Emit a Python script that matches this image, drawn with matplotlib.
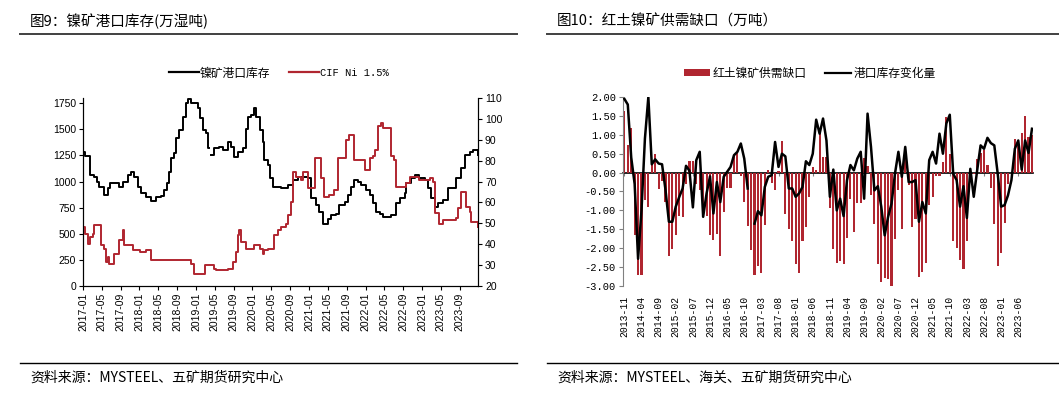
import numpy as np
import pandas as pd
import matplotlib
matplotlib.use('Agg')
import matplotlib.pyplot as plt
from matplotlib.lines import Line2D
from matplotlib.patches import Patch
from matplotlib.ticker import FormatStrFormatter

plt.rcParams['font.family'] = ['Liberation Sans', 'Noto Sans CJK SC']

CJK = ['Noto Sans CJK SC', 'DejaVu Sans']
MONO = ['Liberation Mono', 'Noto Sans CJK SC']
RED = '#B02630'

# ---- 图9: nickel ore port inventory (万湿吨) and CIF Ni 1.5% ----
inv_dates = ['2017-01-01', '2017-01-11', '2017-02-09', '2017-02-17', '2017-03-15', '2017-03-30',
             '2017-04-16', '2017-05-18', '2017-06-09', '2017-06-24', '2017-07-21', '2017-08-24',
             '2017-09-15', '2017-10-17', '2017-11-08', '2017-11-29', '2017-12-20', '2018-01-12',
             '2018-02-13', '2018-03-15', '2018-04-17', '2018-05-19', '2018-06-10', '2018-06-25',
             '2018-07-12', '2018-07-25', '2018-08-14', '2018-08-25', '2018-09-16', '2018-10-07',
             '2018-10-29', '2018-11-13', '2018-12-01', '2019-01-02', '2019-01-13', '2019-01-24',
             '2019-02-15', '2019-03-06', '2019-03-17', '2019-03-24', '2019-04-08', '2019-04-29',
             '2019-06-01', '2019-06-22', '2019-07-24', '2019-08-15', '2019-09-06', '2019-09-28',
             '2019-11-01', '2019-11-21', '2019-12-01', '2019-12-23', '2020-01-14', '2020-01-25',
             '2020-02-16', '2020-03-07', '2020-03-18', '2020-04-09', '2020-04-20', '2020-05-11',
             '2020-07-04', '2020-08-16', '2020-09-18', '2020-10-20', '2020-11-22', '2020-12-24',
             '2021-01-15', '2021-02-17', '2021-03-08', '2021-03-29', '2021-05-01', '2021-05-22',
             '2021-06-24', '2021-07-15', '2021-08-18', '2021-09-09', '2021-10-01', '2021-10-21',
             '2021-11-12', '2021-12-04', '2022-01-06', '2022-01-27', '2022-02-18', '2022-03-09',
             '2022-04-01', '2022-04-21', '2022-05-24', '2022-06-15', '2022-07-17', '2022-08-08',
             '2022-09-10', '2022-09-21', '2022-10-22', '2022-11-13', '2022-12-15', '2023-01-18',
             '2023-02-09', '2023-03-01', '2023-03-22', '2023-04-12', '2023-05-14', '2023-06-16',
             '2023-07-18', '2023-08-09', '2023-09-11', '2023-10-02', '2023-11-04', '2023-11-25',
             '2023-12-28']
inv_vals = [1286, 1240, 1240, 1062, 1046, 1000,
            950, 870, 934, 982, 982, 950,
            998, 1062, 1090, 1046, 950, 886,
            854, 815, 854, 860, 918, 982,
            1094, 1222, 1270, 1414, 1494, 1622,
            1750, 1790, 1750, 1750, 1702, 1606,
            1494, 1462, 1318, np.nan, 1254, 1318,
            1334, 1302, 1382, 1334, 1238, 1286,
            1318, 1500, 1622, 1638, 1702, 1622,
            1494, 1382, 1206, 1158, 1030, 950,
            940, 966, 1014, 1046, 1046, 1030,
            838, 774, 710, 598, 646, 678,
            694, 774, 806, 870, 950, 1014,
            998, 966, 918, 870, 790, 710,
            694, 662, 662, 678, 790, 838,
            886, 982, 1030, 1062, 1030, 1014,
            934, 838, 758, 790, 822, 934,
            934, 1030, 1126, 1254, 1286, 1302,
            1254]

cif_dates = ['2017-01-01', '2017-01-11', '2017-01-31', '2017-02-12', '2017-03-05', '2017-03-15',
             '2017-04-16', '2017-04-27', '2017-05-18', '2017-05-28', '2017-06-09', '2017-06-20',
             '2017-07-21', '2017-08-24', '2017-09-15', '2017-09-26', '2017-10-28', '2017-11-19',
             '2018-01-02', '2018-02-13', '2018-03-15', '2018-12-01', '2018-12-22', '2019-02-26',
             '2019-03-30', '2019-04-29', '2019-05-10', '2019-07-24', '2019-08-26', '2019-09-17',
             '2019-09-28', '2019-10-09', '2019-10-20', '2019-11-21', '2020-01-14', '2020-02-16',
             '2020-03-07', '2020-03-18', '2020-04-09', '2020-05-22', '2020-06-13', '2020-07-04',
             '2020-08-06', '2020-08-16', '2020-09-06', '2020-09-18', '2020-10-09', '2020-11-10',
             '2020-11-22', '2020-12-24', '2021-02-06', '2021-03-19', '2021-04-09', '2021-05-11',
             '2021-06-13', '2021-07-05', '2021-08-28', '2021-09-14', '2021-10-21', '2021-12-25',
             '2022-01-27', '2022-02-18', '2022-02-28', '2022-03-21', '2022-04-12', '2022-04-23',
             '2022-06-15', '2022-07-06', '2022-07-17', '2022-09-21', '2022-10-12', '2022-12-15',
             '2023-02-19', '2023-03-12', '2023-03-22', '2023-04-23', '2023-05-14', '2023-08-09',
             '2023-08-20', '2023-09-11', '2023-10-13', '2023-11-04', '2023-11-15', '2023-12-28']
cif_vals = [48.3, 45.1, 40.3, 43.5, 45.1, 49.1,
            49.1, 39.5, 37.9, 31.5, 33.9, 30.7,
            35.5, 41.9, 46.7, 39.5, 39.5, 37.1,
            36.3, 37.1, 32.3, 30.7, 25.9, 30.2,
            29.9, 28.3, 27.5, 28.3, 31.5, 36.3,
            44.3, 46.7, 41.1, 37.9, 39.5, 37.9,
            35.5, 37.1, 37.9, 44.3, 46.7, 48.3,
            49.9, 53.9, 60.4, 74.8, 72.4, 70.8,
            74.8, 66.8, 81.2, 71.6, 62.8, 63.6,
            66.0, 81.2, 90.0, 92.4, 80.4, 75.6,
            81.2, 82.0, 85.2, 96.4, 98.0, 95.6,
            82.0, 80.4, 67.6, 69.2, 72.4, 70.8,
            71.6, 70.0, 54.8, 49.9, 51.5, 52.4,
            57.2, 65.2, 58.0, 55.6, 50.7, 48.3]

left_ticks = pd.date_range('2017-01-01', '2023-09-01', freq='4MS')

# ---- 图10: laterite nickel ore supply-demand gap (万吨) ----
gap_months = pd.date_range('2013-11-01', periods=120, freq='MS')
gap_vals = [1.62, 0.72, 1.19, -1.64, -2.72, -2.72, -0.72, -0.90, 0.20, 0.48,
            -0.43, -0.22, -0.77, -2.20, -2.03, -1.65, -1.15, -1.18, -0.30, 0.30,
            0.30, -0.30, -0.45, -1.10, -1.15, -1.65, -1.78, -1.62, -2.20, -1.05,
            -0.40, -0.40, 0.45, 0.55, -0.10, -0.78, -1.40, -2.05, -2.72, -2.48,
            -2.65, -1.38, 0.08, -0.28, -0.45, 0.05, 0.83, -1.10, -1.48, -1.80,
            -2.43, -2.65, -1.80, -1.43, -0.65, 0.15, 0.08, 1.05, 0.40, 0.40,
            -0.93, -2.02, -2.38, -2.35, -2.43, -1.72, -0.70, -1.58, -0.80, -0.80,
            0.38, 0.18, -0.60, -1.35, -2.43, -2.90, -2.78, -2.82, -3.02, -1.75,
            -0.45, -1.50, 0.35, -0.32, -1.45, -1.22, -2.75, -2.62, -2.40, -0.85,
            -0.65, -0.10, -0.08, 0.28, 1.48, 0.50, -1.80, -2.00, -2.30, -2.55,
            -1.82, -0.20, -0.05, 0.35, 0.52, 0.60, 0.20, -0.40, -1.35, -2.48,
            -2.12, -1.33, -0.30, 0.00, 0.88, 0.75, 1.05, 1.50, 0.95, 1.00]
chg_vals = [1.95, 1.80, 0.40, -0.30, -2.28, -1.00, 0.90, 2.00, 0.22, 0.35,
            0.24, 0.22, -0.45, -1.30, -1.30, -0.90, -0.65, -0.42, 0.18, 0.05,
            -0.92, 0.33, 0.55, -1.17, -0.55, -0.10, -1.08, -0.25, -0.78, -0.11,
            0.02, 0.15, 0.46, 0.55, 0.77, 0.37, -0.42, np.nan, -1.35, -1.02,
            -1.13, -0.38, -0.11, -0.07, 0.81, 0.15, 0.50, 0.43, -0.42, -0.42,
            -0.64, -0.55, -0.38, 0.30, 0.20, 0.50, 1.40, 1.03, 1.43, 0.85,
            -0.64, 0.08, -1.00, -0.69, -1.15, -0.20, 0.20, 0.06, 0.37, 0.55,
            -0.69, 1.56, 0.68, -0.47, -0.36, -0.90, -1.66, -1.17, -0.82, -0.03,
            0.55, -0.11, 0.68, -0.25, -0.25, -0.20, -1.30, -0.78, -1.08, 0.33,
            0.55, 0.24, 1.03, 0.50, 1.30, 1.53, -0.03, -0.20, -0.90, -0.36,
            -1.20, 0.10, -0.64, 0.06, 0.72, 0.63, 0.92, 0.78, 0.72, -0.03,
            -0.90, -0.86, -0.60, -0.20, 0.63, 0.85, 0.08, 0.85, 0.52, 1.16]

W, H = 1059, 398
fig = plt.figure(figsize=(W / 100, H / 100), dpi=100)


def px(x0, y0, x1, y1):
    return [x0 / W, 1 - y1 / H, (x1 - x0) / W, (y1 - y0) / H]


def hline(x0, x1, y, color, lw):
    fig.add_artist(Line2D([x0 / W, x1 / W], [1 - y / H] * 2, color=color, lw=lw))


# ---------- left chart ----------
ax1 = fig.add_axes(px(83, 98, 478, 286))
ax1.plot(pd.to_datetime(inv_dates), inv_vals, drawstyle='steps-post', color='black', lw=1.4)
ax1.set_ylim(0, 1800)
ax1.set_yticks(range(0, 1751, 250))
ax1.set_xlim(pd.Timestamp('2017-01-01'), pd.Timestamp('2023-12-28'))
ax1.set_xticks(left_ticks)
ax1.set_xticklabels(left_ticks.strftime('%Y-%m'), rotation=90)
ax1.spines['top'].set_visible(False)
ax1.tick_params(labelsize=7.5, length=3, width=0.8, pad=2)

ax2 = ax1.twinx()
ax2.plot(pd.to_datetime(cif_dates), cif_vals, drawstyle='steps-post', color=RED, lw=1.4)
ax2.set_ylim(20, 110)
ax2.set_yticks(range(20, 111, 10))
ax2.spines['top'].set_visible(False)
ax2.tick_params(labelsize=7.5, length=3, width=0.8, pad=2)
ax2.set_xlim(ax1.get_xlim())

# ---------- right chart ----------
ax3 = fig.add_axes(px(623, 97, 1033, 286))
x = np.arange(len(gap_vals))
ax3.bar(x, gap_vals, width=0.62, color=RED, zorder=2)
ax3.plot(x, chg_vals, color='black', lw=1.8, zorder=3)
ax3.set_ylim(-3, 2)
ax3.set_yticks(np.arange(-3, 2.01, 0.5))
ax3.yaxis.set_major_formatter(FormatStrFormatter('%.2f'))
ax3.set_xlim(-0.4, 119.3)
ax3.set_xticks(x[::5])
ax3.set_xticklabels(gap_months[::5].strftime('%Y-%m'), rotation=90)
for s in ['top', 'right', 'bottom']:
    ax3.spines[s].set_visible(False)
ax3.spines['left'].set_color('#808080')
ax3.tick_params(axis='y', labelsize=7.5, length=3, color='#808080', pad=2)
ax3.tick_params(axis='x', labelsize=7, length=0, pad=7)
for lab in ax3.get_xticklabels() + ax3.get_yticklabels():
    lab.set_fontfamily(MONO)

# zero line with tick marks
secax = ax3.secondary_xaxis(0.6)
secax.set_alignment('bottom')
secax.set_xticks(x[::5])
secax.tick_params(length=2.5, color='#808080', labelbottom=False, labeltop=False)
secax.spines['bottom'].set_color('black')
secax.spines['bottom'].set_linewidth(1.2)

# ---------- legends ----------
leg1 = fig.legend([Line2D([], [], color='black', lw=1.6), Line2D([], [], color=RED, lw=1.6)],
                  ['镍矿港口库存', 'CIF Ni 1.5%'], loc='center', bbox_to_anchor=(279 / W, 1 - 73 / H),
                  ncol=2, frameon=False, handlelength=2.5, handletextpad=0.1, columnspacing=1.6,
                  prop={'family': CJK, 'size': 8.5})
leg1.get_texts()[1].set_fontfamily(MONO)
leg1.get_texts()[1].set_fontsize(7.5)

fig.legend([Patch(facecolor=RED), Line2D([], [], color='black', lw=1.6)],
           ['红土镍矿供需缺口', '港口库存变化量'], loc='center', bbox_to_anchor=(810 / W, 1 - 73 / H),
           ncol=2, frameon=False, handlelength=2.2, handleheight=0.5, handletextpad=0.2,
           columnspacing=1.6, prop={'family': CJK, 'size': 8.5})

# ---------- titles, rules, sources ----------
fig.text(30 / W, 1 - 21 / H, '图9：镍矿港口库存(万湿吨)', family=CJK, size=10.5, va='center')
fig.text(557 / W, 1 - 21 / H, '图10：红土镍矿供需缺口（万吨）', family=CJK, size=10.5, va='center')
hline(20, 517, 34, '#404040', 1.4)
hline(547, 1059, 34, '#404040', 1.4)
hline(20, 517, 363, 'black', 1.0)
hline(547, 1059, 363, 'black', 1.0)
fig.text(30 / W, 1 - 378 / H, '资料来源：MYSTEEL、五矿期货研究中心', family=CJK, size=10, va='center')
fig.text(557 / W, 1 - 378 / H, '资料来源：MYSTEEL、海关、五矿期货研究中心', family=CJK, size=10, va='center')

fig.savefig('out.png', dpi=100)
